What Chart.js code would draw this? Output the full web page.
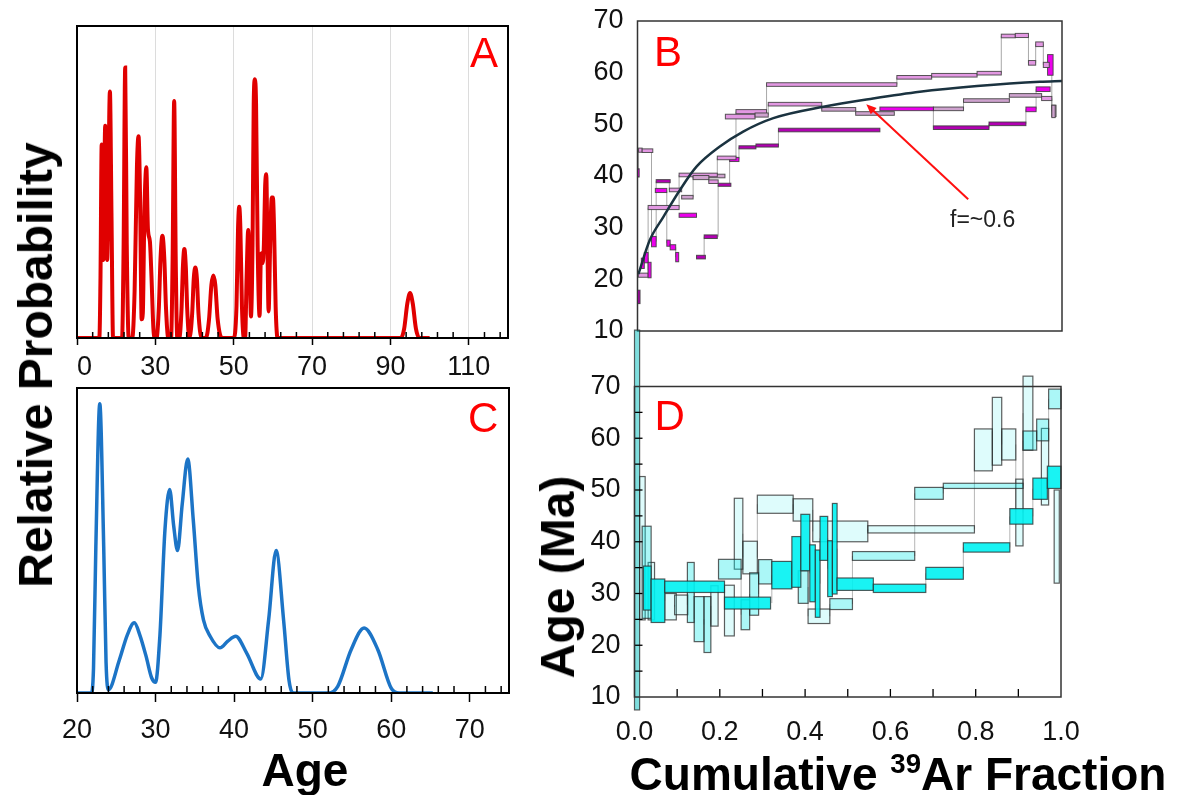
<!DOCTYPE html>
<html><head><meta charset="utf-8">
<script src="https://cdn.jsdelivr.net/npm/chart.js@4.4.1/dist/chart.umd.min.js"></script>
<style>
html,body{margin:0;padding:0;background:#fff;}
#wrap{position:relative;width:1180px;height:795px;overflow:hidden;font-family:"Liberation Sans",Arial,sans-serif;}
canvas{position:absolute;}
.t{position:absolute;white-space:nowrap;line-height:1;}
.b{font-weight:bold;color:#000;}
.lab{color:#ff0000;font-size:42px;}
sup{font-size:0.6em;line-height:0;vertical-align:0.62em;}
</style></head><body><div id="wrap">
<canvas id="cA" width="444" height="400" style="left:76px;top:0px"></canvas>
<canvas id="cC" width="465" height="380" style="left:55px;top:380px"></canvas>
<canvas id="cB" width="515" height="345" style="left:560px;top:0px"></canvas>
<canvas id="cD" width="540" height="440" style="left:560px;top:320px"></canvas>
<div class="t b" style="font-size:48px;left:36px;top:365px;transform:translate(-50%,-50%) rotate(-90deg);">Relative Probability</div>
<div class="t b" style="font-size:48px;left:558px;top:577px;transform:translate(-50%,-50%) rotate(-90deg);">Age (Ma)</div>
<div class="t b" style="font-size:46px;left:305px;top:747px;transform:translateX(-50%);">Age</div>
<div class="t b" style="font-size:46px;left:898px;top:751px;transform:translateX(-50%);">Cumulative <sup>39</sup>Ar Fraction</div>
<div class="t lab" style="left:470px;top:31.5px;">A</div>
<div class="t lab" style="left:654px;top:31px;">B</div>
<div class="t lab" style="left:468px;top:396.5px;">C</div>
<div class="t lab" style="left:654.5px;top:394.5px;">D</div>
<div class="t" style="font-size:23px;left:950px;top:207.5px;color:#222;">f=~0.6</div>
</div>
<script>
// ---------------- DATA ----------------
// Panel A: relative probability vs age
const A_CURVE = [[10,0],[15.7,0],[16.0,20],[16.3,62],[16.7,25],[17.2,68],[17.7,25],[18.4,79],[18.8,40],[19.2,0],
 [21.5,0],[21.9,30],[22.3,86.7],[22.7,30],[23.2,0],
 [24.1,0],[24.7,15],[25.3,55],[25.7,64.7],[26.1,45],[26.5,6],[26.8,8],[27.2,40],[27.7,54.7],[28.1,35],[28.6,31],[29.0,20],[29.5,3],[29.9,0],
 [30.3,0],[30.9,10],[31.3,25],[31.8,32.8],[32.3,25],[32.7,10],[33.3,0],
 [34.0,0],[34.4,25],[34.8,76],[35.2,25],[35.6,0],
 [36.1,0],[36.7,10],[37.0,22],[37.4,28.5],[37.8,22],[38.1,10],[38.7,0],
 [39.4,8],[39.8,19],[40.2,22.6],[40.6,19],[41.0,8],[41.8,0],
 [42.9,0],[43.7,6],[44.3,17],[44.8,20],[45.3,17],[45.9,6],[47.0,0],
 [50.0,0],[50.7,10],[51.1,35],[51.4,42.1],[51.7,35],[52.1,10],[52.6,0],
 [52.9,0],[53.3,20],[53.7,34.6],[54.1,20],[54.4,6.9],[54.8,30],[55.1,75],[55.4,82.9],[55.7,75],[56.1,30],[56.6,7.1],
 [56.9,25],[57.1,27.2],[57.4,24],[57.7,30],[58.0,48],[58.3,52.5],[58.6,30],[58.9,8.5],[59.3,30],[59.7,45],[60.0,45],[60.3,35],[60.7,10],[61.2,0],
 [92.7,0],[93.5,3],[94.3,11],[95.0,14.4],[95.7,11],[96.5,3],[97.4,0],[100,0]];
const A_TICKS = [10,30,50,70,90,110];

// Panel C: relative probability vs age
const C_CURVE = [[20,0],[21.8,0],[22.1,8],[22.4,48],[22.9,94.8],[23.4,48],[23.7,10],[24.0,1.1],[25.4,10.9],[26.4,19],[27.3,23],[28.0,19],[28.8,12],[29.5,5],[30.0,3.5],
 [30.55,18.6],[31.2,53.6],[31.8,66.7],[32.3,55],[32.8,46.7],[33.4,62],[34.1,76.7],[34.8,56.8],[35.45,35],[36.1,24],[36.95,18.6],[38.2,14.8],[39.2,17],[40.2,18.6],[41.6,13.1],[43.4,4.6],
 [44.4,24],[45.35,46.7],[46.3,24],[47.0,4],[47.6,0],[52.0,0],[53.2,2.2],[54.9,14.2],[56.55,21.3],[58.3,14.2],[60.0,1.6],[61.0,0],[65.3,0]];
const C_TICKS = [20,30,40,50,60,70];

// Panel B: age spectra [fromFrac, toFrac, age, halfError, tone] and fitted curve
const B_STEPS_1 = [[0.002,0.025,20.8,0.4,'p'],[0.025,0.098,33.9,0.4,'p'],[0.098,0.188,40.2,0.35,'p'],[0.188,0.232,43.5,0.35,'p'],[0.232,0.304,52.45,0.4,'p'],[0.304,0.611,57.7,0.35,'p'],[0.611,0.693,59.1,0.35,'p'],[0.693,0.800,59.5,0.35,'p'],[0.800,0.857,59.9,0.35,'p'],[0.857,0.890,67.1,0.35,'p'],[0.890,0.921,67.2,0.4,'p'],[0.921,0.938,61.9,0.45,'p'],[0.938,0.956,65.5,0.45,'p'],[0.956,0.970,61.5,0.5,'p']];
const B_STEPS_2 = [[0.104,0.131,35.9,0.35,'m'],[0.131,0.168,39.7,0.4,'m'],[0.168,0.190,38.9,0.35,'p']];
const B_STEPS_3 = [[0.207,0.277,51.5,0.45,'p'],[0.277,0.308,51.8,0.4,'m'],[0.308,0.434,53.9,0.35,'p'],[0.434,0.514,52.9,0.35,'m'],[0.514,0.605,52.1,0.35,'m']];
const B_STEPS_4 = [[0.571,0.697,53.0,0.35,'M'],[0.697,0.828,49.35,0.35,'d'],[0.828,0.915,50.1,0.35,'d'],[0.915,0.939,52.9,0.45,'M'],[0.939,0.972,56.8,0.45,'M']];
const B_STEPS_5 = [[0.697,0.768,53.0,0.35,'m'],[0.768,0.876,54.6,0.35,'m'],[0.876,0.952,55.6,0.35,'m'],[0.952,0.976,55.0,0.4,'p'],[0.976,0.984,52.5,1.2,'m']];
const B_STEPS_6 = [[0.009,0.016,23.1,1.0,'M'],[0.016,0.025,24.2,1.0,'M'],[0.025,0.032,21.8,1.5,'M']];
const B_STEPS_7 = [[0.042,0.069,37.2,0.4,'M'],[0.069,0.077,27.0,0.6,'M'],[0.077,0.090,26.2,0.5,'M'],[0.090,0.097,24.3,0.9,'M']];
const B_SINGLES = [[0,0.006,16.6,1.3,'d'],[0,0.004,40.6,0.8,'M'],[0.0025,0.011,45.0,0.4,'p'],[0.011,0.036,44.9,0.35,'p'],[0.033,0.044,27.3,1.0,'M'],[0.044,0.077,39.0,0.3,'d'],[0.075,0.104,37.3,0.35,'p'],[0.098,0.139,32.4,0.4,'M'],[0.131,0.206,40.0,0.35,'m'],[0.139,0.160,24.3,0.35,'d'],[0.157,0.188,28.25,0.35,'d'],[0.190,0.220,38.3,0.3,'d'],[0.217,0.239,43.2,0.4,'M'],[0.239,0.279,45.55,0.3,'d'],[0.279,0.332,45.9,0.3,'d'],[0.332,0.571,48.9,0.35,'d'],[0.966,0.979,61.5,2.0,'M'],[0.976,0.986,52.6,1.1,'m']];
const B_FIT_X = [0.002,0.029,0.061,0.10,0.139,0.194,0.249,0.32,0.438,0.555,0.665,0.80,0.948,1.0];
const B_FIT_AGE = [21.0,27.6,32.1,37.3,41.8,45.7,48.6,51.2,53.4,55.0,56.3,57.4,58.25,58.4];
const B_ARROW = [[0.779,35.5],[0.539,53.9]];
const AGE_TICKS = [10,20,30,40,50,60,70];

// Panel D: age spectra
const D_SINGLES = [[0.0,0.012,44.2,36.7,'mid'],[0.032,0.047,30.45,5.55,'pale'],[0.071,0.098,27.45,2.55,'pale'],[0.094,0.125,27.8,1.9,'pale'],[0.124,0.14,30.2,5.8,'light'],[0.14,0.163,25.05,4.35,'light'],[0.163,0.179,24.0,5.4,'light'],[0.179,0.196,27.6,3.9,'pale'],[0.211,0.234,26.7,4.9,'pale'],[0.954,0.971,54.5,7.4,'pale'],[0.984,0.996,41.0,9.0,'pale']];
const D_STEPS_PALE = [[0.012,0.025,38.75,13.85,'pale'],[0.234,0.254,41.55,6.85,'pale'],[0.254,0.288,36.95,3.15,'pale'],[0.288,0.372,47.25,1.75,'pale'],[0.372,0.418,46.15,2.15,'pale'],[0.418,0.547,42.0,2.0,'pale'],[0.547,0.797,42.4,0.7,'pale'],[0.797,0.839,57.75,4.05,'pale'],[0.839,0.861,61.35,6.55,'pale'],[0.861,0.894,58.8,3.0,'pale'],[0.894,0.911,45.65,6.45,'pale'],[0.911,0.934,64.85,7.15,'pale']];
const D_STEPS_LIGHT = [[0.018,0.039,34.1,8.9,'light'],[0.197,0.25,34.7,1.9,'light'],[0.25,0.27,25.9,2.9,'light'],[0.27,0.291,29.9,4.1,'light'],[0.291,0.322,34.2,2.35,'light'],[0.384,0.407,31.25,3.15,'light'],[0.407,0.458,25.6,1.4,'pale'],[0.458,0.511,27.95,1.05,'light'],[0.511,0.657,37.25,0.85,'light'],[0.657,0.724,49.35,1.15,'light'],[0.724,0.911,50.8,0.5,'light'],[0.911,0.943,59.55,1.85,'light'],[0.943,0.971,61.6,2.1,'light'],[0.971,1.0,67.6,1.9,'light']];
const D_STEPS_BRIGHT = [[0.021,0.039,31.05,4.25,'bright'],[0.039,0.071,28.6,4.2,'bright'],[0.071,0.211,31.3,1.1,'bright'],[0.211,0.319,28.15,1.15,'bright'],[0.322,0.369,33.55,2.65,'bright'],[0.369,0.39,36.1,4.9,'bright'],[0.39,0.411,39.85,5.45,'bright'],[0.411,0.424,33.9,5.5,'bright'],[0.424,0.435,31.9,6.5,'bright'],[0.435,0.453,40.65,4.25,'bright'],[0.453,0.464,34.8,5.4,'bright'],[0.464,0.475,38.65,8.75,'bright'],[0.475,0.56,31.8,1.2,'bright'],[0.56,0.683,31.0,0.8,'bright'],[0.683,0.771,33.9,1.15,'bright'],[0.771,0.88,38.9,0.9,'bright'],[0.88,0.934,44.9,1.5,'bright'],[0.934,0.968,50.25,2.05,'bright'],[0.968,1.0,52.45,2.15,'bright']];
const FRAC_TICKS = [0,0.2,0.4,0.6,0.8,1.0];

// ---------------- STYLE ----------------
const FONT = '"Liberation Sans", Arial, sans-serif';
const TICK_FONT = {family: FONT, size: 27};
const B_TONES = {p:'rgb(226,152,226)', m:'rgb(206,162,206)', M:'rgb(236,0,236)', d:'rgb(178,0,178)'};
const D_TONES = {pale:'rgba(0,232,232,0.13)', light:'rgba(0,232,232,0.33)', bright:'rgba(0,242,242,0.9)', mid:'rgba(0,190,190,0.5)'};

function range(a, b, s) { const r = []; for (let v = a; v <= b + 1e-9; v += s) r.push(+v.toFixed(4)); return r; }

function makeDecor(cfg) {
  return {
    id: 'decor',
    beforeDatasetsDraw(chart) {
      if (!cfg.spectra) return;
      const c = chart.ctx, xs = chart.scales.x, ys = chart.scales.y;
      c.save();
      c.strokeStyle = cfg.connColor; c.lineWidth = 1;
      cfg.spectra.forEach(rows => {
        for (let i = 1; i < rows.length; i++) {
          const p = rows[i-1], q = rows[i];
          if (Math.abs(p[1] - q[0]) < 0.005) {
            const x = xs.getPixelForValue(q[0]);
            c.beginPath(); c.moveTo(x, ys.getPixelForValue(p[2])); c.lineTo(x, ys.getPixelForValue(q[2])); c.stroke();
          }
        }
      });
      c.lineWidth = cfg.boxLine; c.strokeStyle = cfg.boxBorder;
      cfg.spectra.forEach(rows => rows.forEach(r => {
        const x0 = xs.getPixelForValue(r[0]), x1 = xs.getPixelForValue(r[1]);
        const y0 = ys.getPixelForValue(r[2] + r[3]), y1 = ys.getPixelForValue(r[2] - r[3]);
        c.fillStyle = cfg.tones[r[4]];
        c.fillRect(x0, y0, x1 - x0, y1 - y0);
        c.strokeRect(x0, y0, x1 - x0, y1 - y0);
      }));
      c.restore();
    },
    afterDatasetsDraw(chart) {
      if (!cfg.arrow) return;
      const c = chart.ctx, xs = chart.scales.x, ys = chart.scales.y;
      const [a, b] = cfg.arrow;
      const x0 = xs.getPixelForValue(a[0]), y0 = ys.getPixelForValue(a[1]);
      const x1 = xs.getPixelForValue(b[0]), y1 = ys.getPixelForValue(b[1]);
      const ang = Math.atan2(y1 - y0, x1 - x0), L = 11;
      c.save(); c.strokeStyle = '#ff1010'; c.fillStyle = '#ff1010'; c.lineWidth = 2;
      c.beginPath(); c.moveTo(x0, y0); c.lineTo(x1 - Math.cos(ang) * 6, y1 - Math.sin(ang) * 6); c.stroke();
      c.beginPath(); c.moveTo(x1, y1);
      c.lineTo(x1 - L * Math.cos(ang - 0.4), y1 - L * Math.sin(ang - 0.4));
      c.lineTo(x1 - L * Math.cos(ang + 0.4), y1 - L * Math.sin(ang + 0.4));
      c.closePath(); c.fill(); c.restore();
    },
    afterDraw(chart) {
      const c = chart.ctx, ca = chart.chartArea, xs = chart.scales.x, ys = chart.scales.y;
      c.save();
      c.strokeStyle = '#000'; c.lineWidth = cfg.tickWidth || 1.5;
      (cfg.innerX || []).forEach(v => { const x = xs.getPixelForValue(v); c.beginPath(); c.moveTo(x, ca.bottom); c.lineTo(x, ca.bottom - cfg.innerLen); c.stroke(); });
      (cfg.innerY || []).forEach(v => { const y = ys.getPixelForValue(v); c.beginPath(); c.moveTo(ca.left, y); c.lineTo(ca.left + cfg.innerLen, y); c.stroke(); });
      c.strokeStyle = cfg.frameColor; c.lineWidth = cfg.frameWidth;
      c.strokeRect(ca.left, ca.top, ca.right - ca.left, ca.bottom - ca.top);
      c.restore();
    }
  };
}

const base = {responsive: false, animation: false, events: [], plugins: {legend: {display: false}, tooltip: {enabled: false}}};
function fixTicks(list) { return s => { s.ticks = list.map(v => ({value: v})); }; }
function fitX(h) { return s => { s.height = h; s.paddingLeft = 0; s.paddingRight = 0; }; }
function fitY(w) { return s => { s.width = w; s.paddingTop = 0; s.paddingBottom = 0; }; }

// ---------- Panel A ----------
new Chart(document.getElementById('cA'), {
  type: 'line',
  data: {datasets: [{data: A_CURVE.map(p => ({x: p[0], y: p[1]})), borderColor: '#e00000', borderWidth: 4, pointRadius: 0, cubicInterpolationMode: 'monotone', fill: false}]},
  options: Object.assign({}, base, {
    layout: {padding: {left: 1, right: 12, top: 26, bottom: 0}},
    scales: {
      x: {type: 'linear', min: 10, max: 120, afterBuildTicks: fixTicks(A_TICKS), afterFit: fitX(62),
          ticks: {font: TICK_FONT, color: '#111', padding: 6, maxRotation: 0, autoSkip: false},
          grid: {color: '#dcdcdc', lineWidth: 1, tickLength: 7, tickColor: '#000', tickWidth: 1.5}, border: {display: false}},
      y: {display: false, min: 0, max: 100}
    }
  }),
  plugins: [makeDecor({frameColor: '#000', frameWidth: 2, innerX: range(10, 120, 4).filter(v => !A_TICKS.includes(v)), innerLen: 6})]
});

// ---------- Panel C ----------
new Chart(document.getElementById('cC'), {
  type: 'line',
  data: {datasets: [{data: C_CURVE.map(p => ({x: p[0], y: p[1]})), borderColor: '#1c74c6', borderWidth: 3.5, pointRadius: 0, cubicInterpolationMode: 'monotone', fill: false}]},
  options: Object.assign({}, base, {
    layout: {padding: {left: 22, right: 11, top: 8, bottom: 0}},
    scales: {
      x: {type: 'linear', min: 20, max: 75, afterBuildTicks: fixTicks(C_TICKS), afterFit: fitX(67),
          ticks: {font: TICK_FONT, color: '#111', padding: 12, maxRotation: 0, autoSkip: false},
          grid: {drawOnChartArea: false, tickLength: 9, tickColor: '#000', tickWidth: 1.5}, border: {display: false}},
      y: {display: false, min: 0, max: 100}
    }
  }),
  plugins: [makeDecor({frameColor: '#000', frameWidth: 2, innerX: range(20, 74, 2).filter(v => !C_TICKS.includes(v)), innerLen: 7})]
});

// ---------- Panel B ----------
new Chart(document.getElementById('cB'), {
  type: 'line',
  data: {datasets: [{data: B_FIT_X.map((x, i) => ({x: x, y: B_FIT_AGE[i]})), borderColor: '#1b3340', borderWidth: 2.5, pointRadius: 0, cubicInterpolationMode: 'monotone', fill: false, clip: 3}]},
  options: Object.assign({}, base, {
    layout: {padding: {left: 0, right: 13, top: 21, bottom: 14}},
    scales: {
      x: {type: 'linear', display: false, min: 0, max: 1},
      y: {type: 'linear', min: 10, max: 70, afterBuildTicks: fixTicks(AGE_TICKS), afterFit: fitY(77.5),
          ticks: {font: TICK_FONT, color: '#111', padding: 14},
          grid: {drawOnChartArea: false, drawTicks: false}, border: {display: false}}
    }
  }),
  plugins: [makeDecor({frameColor: '#333', frameWidth: 1.5, spectra: [B_SINGLES, B_STEPS_1, B_STEPS_2, B_STEPS_3, B_STEPS_5, B_STEPS_4, B_STEPS_6, B_STEPS_7],
    tones: B_TONES, boxBorder: 'rgba(60,60,60,0.85)', boxLine: 1, connColor: 'rgba(110,110,110,0.6)', arrow: B_ARROW})]
});

// ---------- Panel D ----------
new Chart(document.getElementById('cD'), {
  type: 'line',
  data: {datasets: []},
  options: Object.assign({}, base, {
    layout: {padding: {left: 0, right: 39, top: 66.5, bottom: 0}},
    scales: {
      x: {type: 'linear', min: 0, max: 1, afterBuildTicks: fixTicks(FRAC_TICKS), afterFit: fitX(63),
          ticks: {font: TICK_FONT, color: '#111', padding: 19, maxRotation: 0, autoSkip: false, callback: v => v.toFixed(1)},
          grid: {drawOnChartArea: false, drawTicks: false}, border: {display: false}},
      y: {type: 'linear', min: 10, max: 70, afterBuildTicks: fixTicks(AGE_TICKS), afterFit: fitY(74.5),
          ticks: {font: TICK_FONT, color: '#111', padding: 14},
          grid: {drawOnChartArea: false, drawTicks: false}, border: {display: false}}
    }
  }),
  plugins: [makeDecor({frameColor: '#333', frameWidth: 1.5, spectra: [D_SINGLES, D_STEPS_PALE, D_STEPS_LIGHT, D_STEPS_BRIGHT],
    tones: D_TONES, boxBorder: 'rgba(40,40,40,0.75)', boxLine: 1.2, connColor: 'rgba(110,110,110,0.5)',
    innerX: range(0.1, 0.9, 0.1), innerY: range(15, 65, 5), innerLen: 8, tickWidth: 1.3})]
});
</script>
</body></html>
